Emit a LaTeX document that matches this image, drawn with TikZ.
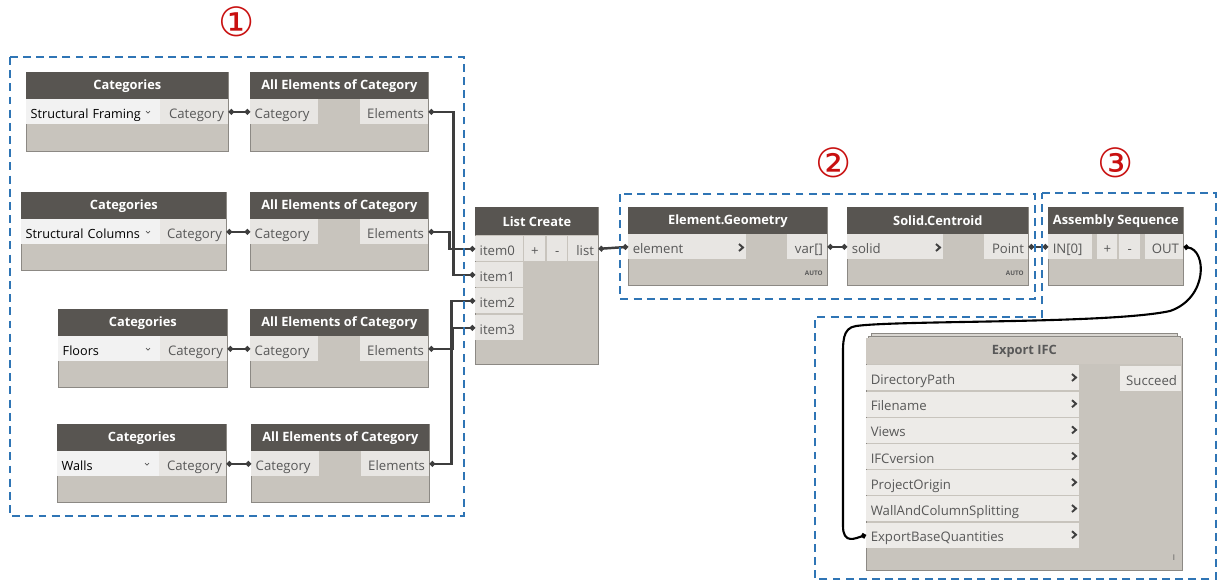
\documentclass[tikz,border=0pt]{standalone}
\usepackage{fontspec}
\setmainfont{Open Sans}
\newfontfamily\symfont{DejaVu Sans}
\usepackage{xcolor}
\usepackage{tikz}
\usetikzlibrary{arrows.meta}

\definecolor{headc}{RGB}{88,85,81}
\definecolor{bodyc}{RGB}{200,196,189}
\definecolor{portc}{RGB}{232,230,227}
\definecolor{dropc}{RGB}{242,242,242}
\definecolor{framec}{RGB}{140,137,132}
\definecolor{txtc}{RGB}{88,88,88}
\definecolor{wirec}{RGB}{62,62,62}
\definecolor{groupc}{RGB}{47,117,181}
\definecolor{numc}{RGB}{200,16,16}
\definecolor{ifchead}{RGB}{206,201,194}
\definecolor{ifcrow}{RGB}{237,235,232}

\begin{document}
\begin{tikzpicture}[x=0.02cm,y=-0.02cm]
\tikzset{>={Circle[length=3pt]}}
\tikzset{
  wd/.style={minimum width=#1*0.02cm},
  ht/.style={minimum height=#1*0.02cm},
  inport/.style={pbox, text width=#1*0.02cm-5pt, align=left},
  outport/.style={pbox, text width=#1*0.02cm-5pt, align=right},
  midport/.style={pbox, text width=#1*0.02cm-5pt, align=center},
}
\tikzstyle{nbody}=[draw=framec, fill=bodyc, line width=0.5pt, anchor=north west, inner sep=0pt]
\tikzstyle{nhead}=[fill=headc, text=white, anchor=north west, inner sep=0pt, font=\fontsize{7.3}{8}\selectfont\bfseries]
\tikzstyle{pbox}=[fill=portc, text=txtc, anchor=north west, inner xsep=2.5pt, inner ysep=0pt, minimum height=0.5cm, text height=1.4ex, text depth=0pt, font=\fontsize{7.5}{8}\selectfont]
\tikzstyle{drop}=[fill=dropc, text=black, font=\fontsize{7.2}{8}\selectfont]
\tikzstyle{auto}=[anchor=east, inner sep=0pt, text=txtc, font=\fontsize{3.6}{4}\selectfont\bfseries]
\tikzstyle{wire}=[draw=wirec, line width=1.4pt, <->]
\tikzstyle{bwire}=[draw=black, line width=1.2pt, <->]
\tikzstyle{group}=[draw=groupc, line width=0.8pt, dash pattern=on 4.5pt off 3pt]
\tikzstyle{num}=[text=numc, inner sep=0pt, font=\symfont\fontsize{23}{23}\selectfont]
\tikzstyle{chev}=[draw=txtc, line width=0.4pt]
\tikzstyle{bigchev}=[draw=black!75, line width=1.1pt]

% group numbers
\node[num] (g1) at (237,22) {①};
\node[num] (g2) at (834,163) {②};
\node[num] (g3) at (1116,163) {③};

% row 1
\node[nbody,wd=202,ht=79] (cat1) at (26,72) {};
\node[nhead,wd=202,ht=27] (cat1h) at (26,72) {Categories};
\node[inport=134,drop] (dd1) at (26,99) {Structural Framing};
\node[outport=68] (co1) at (160,99) {Category};
\node[nbody,wd=178,ht=79] (all1) at (250,72) {};
\node[nhead,wd=178,ht=27] (all1h) at (250,72) {All Elements of Category};
\node[inport=68] (ci1) at (250,99) {Category};
\node[outport=68] (eo1) at (360,99) {Elements};

% row 2
\node[nbody,wd=205,ht=78] (cat2) at (21,192) {};
\node[nhead,wd=205,ht=27] (cat2h) at (21,192) {Categories};
\node[inport=139,drop] (dd2) at (21,219) {Structural Columns};
\node[outport=66] (co2) at (160,219) {Category};
\node[nbody,wd=178,ht=78] (all2) at (250,192) {};
\node[nhead,wd=178,ht=27] (all2h) at (250,192) {All Elements of Category};
\node[inport=68] (ci2) at (250,219) {Category};
\node[outport=68] (eo2) at (360,219) {Elements};

% row 3
\node[nbody,wd=169,ht=78] (cat3) at (58,309) {};
\node[nhead,wd=169,ht=27] (cat3h) at (58,309) {Categories};
\node[inport=102,drop] (dd3) at (58,336) {Floors};
\node[outport=67] (co3) at (160,336) {Category};
\node[nbody,wd=178,ht=78] (all3) at (250,309) {};
\node[nhead,wd=178,ht=27] (all3h) at (250,309) {All Elements of Category};
\node[inport=68] (ci3) at (250,336) {Category};
\node[outport=68] (eo3) at (360,336) {Elements};

% row 4
\node[nbody,wd=169,ht=78] (cat4) at (57,424) {};
\node[nhead,wd=169,ht=27] (cat4h) at (57,424) {Categories};
\node[inport=102,drop] (dd4) at (57,451) {Walls};
\node[outport=67] (co4) at (159,451) {Category};
\node[nbody,wd=178,ht=78] (all4) at (251,424) {};
\node[nhead,wd=178,ht=27] (all4h) at (251,424) {All Elements of Category};
\node[inport=68] (ci4) at (251,451) {Category};
\node[outport=68] (eo4) at (361,451) {Elements};

% dropdown marks
\draw[chev] (146,111) -- (148,113) -- (150,111);
\draw[chev] (146,231) -- (148,233) -- (150,231);
\draw[chev] (146,348) -- (148,350) -- (150,348);
\draw[chev] (145,463) -- (147,465) -- (149,463);

% list create
\node[nbody,wd=123,ht=157] (lc) at (475,207) {};
\node[nhead,wd=123,ht=28] (lch) at (475,207) {List Create};
\node[inport=48] (it0) at (475,236) {item0};
\node[inport=48] (it1) at (475,262) {item1};
\node[inport=48] (it2) at (475,288) {item2};
\node[inport=48] (it3) at (475,315) {item3};
\node[midport=21] (lcp) at (524,236) {+};
\node[midport=20] (lcm) at (547,236) {-};
\node[outport=30] (lst) at (568,236) {list};

% element.geometry
\node[nbody,wd=199,ht=78] (eg) at (628,207) {};
\node[nhead,wd=199,ht=27] (egh) at (628,207) {Element.Geometry};
\node[inport=118] (egin) at (628,234) {element};
\node[outport=40] (egout) at (787,234) {var[]};
\node[auto] (egauto) at (823,273) {AUTO};
\draw[bigchev] (739,244) -- (743,247.5) -- (739,251);

% solid.centroid
\node[nbody,wd=181,ht=78] (sc) at (847,207) {};
\node[nhead,wd=181,ht=27] (sch) at (847,207) {Solid.Centroid};
\node[inport=96] (scin) at (847,234) {solid};
\node[outport=44] (scout) at (984,234) {Point};
\node[auto] (scauto) at (1024,273) {AUTO};
\draw[bigchev] (936,244) -- (940,247.5) -- (936,251);

% assembly sequence
\node[nbody,wd=135,ht=78] (as) at (1048,207) {};
\node[nhead,wd=135,ht=27] (ash) at (1048,207) {Assembly Sequence};
\node[inport=44] (asin) at (1048,234) {IN[0]};
\node[midport=20] (asp) at (1097,234) {+};
\node[midport=21] (asm) at (1119,234) {-};
\node[outport=38] (asout) at (1145,234) {OUT};

% export ifc
\node[nbody,fill=bodyc!70!white,wd=306,ht=10] (ifcs1) at (871,333) {};
\node[nbody,fill=bodyc!85!white,wd=312,ht=10] (ifcs2) at (868,335.5) {};
\node[nbody,wd=316,ht=232] (ifc) at (866,338) {};
\node[nhead,fill=ifchead,text=txtc,wd=316,ht=26] (ifch) at (866,338) {Export IFC};
\foreach \nm [count=\i from 0] in {DirectoryPath,Filename,Views,IFCversion,ProjectOrigin,WallAndColumnSplitting,ExportBaseQuantities}{
  \node[inport=213,fill=ifcrow] (ifc\i) at (866,{365+26.2*\i}) {\nm};
  \draw[bigchev] (1072,{374+26.2*\i}) -- (1076,{377.5+26.2*\i}) -- (1072,{381+26.2*\i});
}
\node[outport=61,fill=ifcrow] (succ) at (1120,366) {Succeed};
\node[text=txtc, inner sep=0pt, font=\fontsize{4.5}{5}\selectfont] (grip) at (1174,558) {I};

% wires
\draw[wire] (co1.east) -- (ci1.west);
\draw[wire] (co2.east) -- (ci2.west);
\draw[wire] (co3.east) -- (ci3.west);
\draw[wire] (co4.east) -- (ci4.west);
\draw[wire] (eo1.east) -- ++(25,0) |- (it1.west);
\draw[wire] (eo2.east) -- ++(21,0) |- (it0.west);
\draw[wire] (eo4.east) -- ++(22,0) |- (it2.west);
\draw[wire] (eo3.east) -- ++(24,0) |- (it3.west);
\draw[wire] (lst.east) -- (egin.west);
\draw[wire] (egout.east) -- (scin.west);
\draw[wire] (scout.east) -- (asin.west);
\draw[bwire] (asout.east) .. controls (1207,250) and (1208,298) .. (1170,311)
  .. controls (1110,324) and (900,320) .. (856,326)
  .. controls (842,328) and (843,342) .. (843,360) -- (843,526)
  .. controls (843,545) and (856,538) .. (ifc6.west);

% groups
\draw[group] (10,57) rectangle (464,516);
\draw[group] (620,194) rectangle (1035,299);
\draw[group] (1042,193) -- (1216,193) -- (1216,579) -- (815,579) -- (815,317) -- (1042,317) -- cycle;

\useasboundingbox (0,0) rectangle (1221,583);
\end{tikzpicture}
\end{document}
